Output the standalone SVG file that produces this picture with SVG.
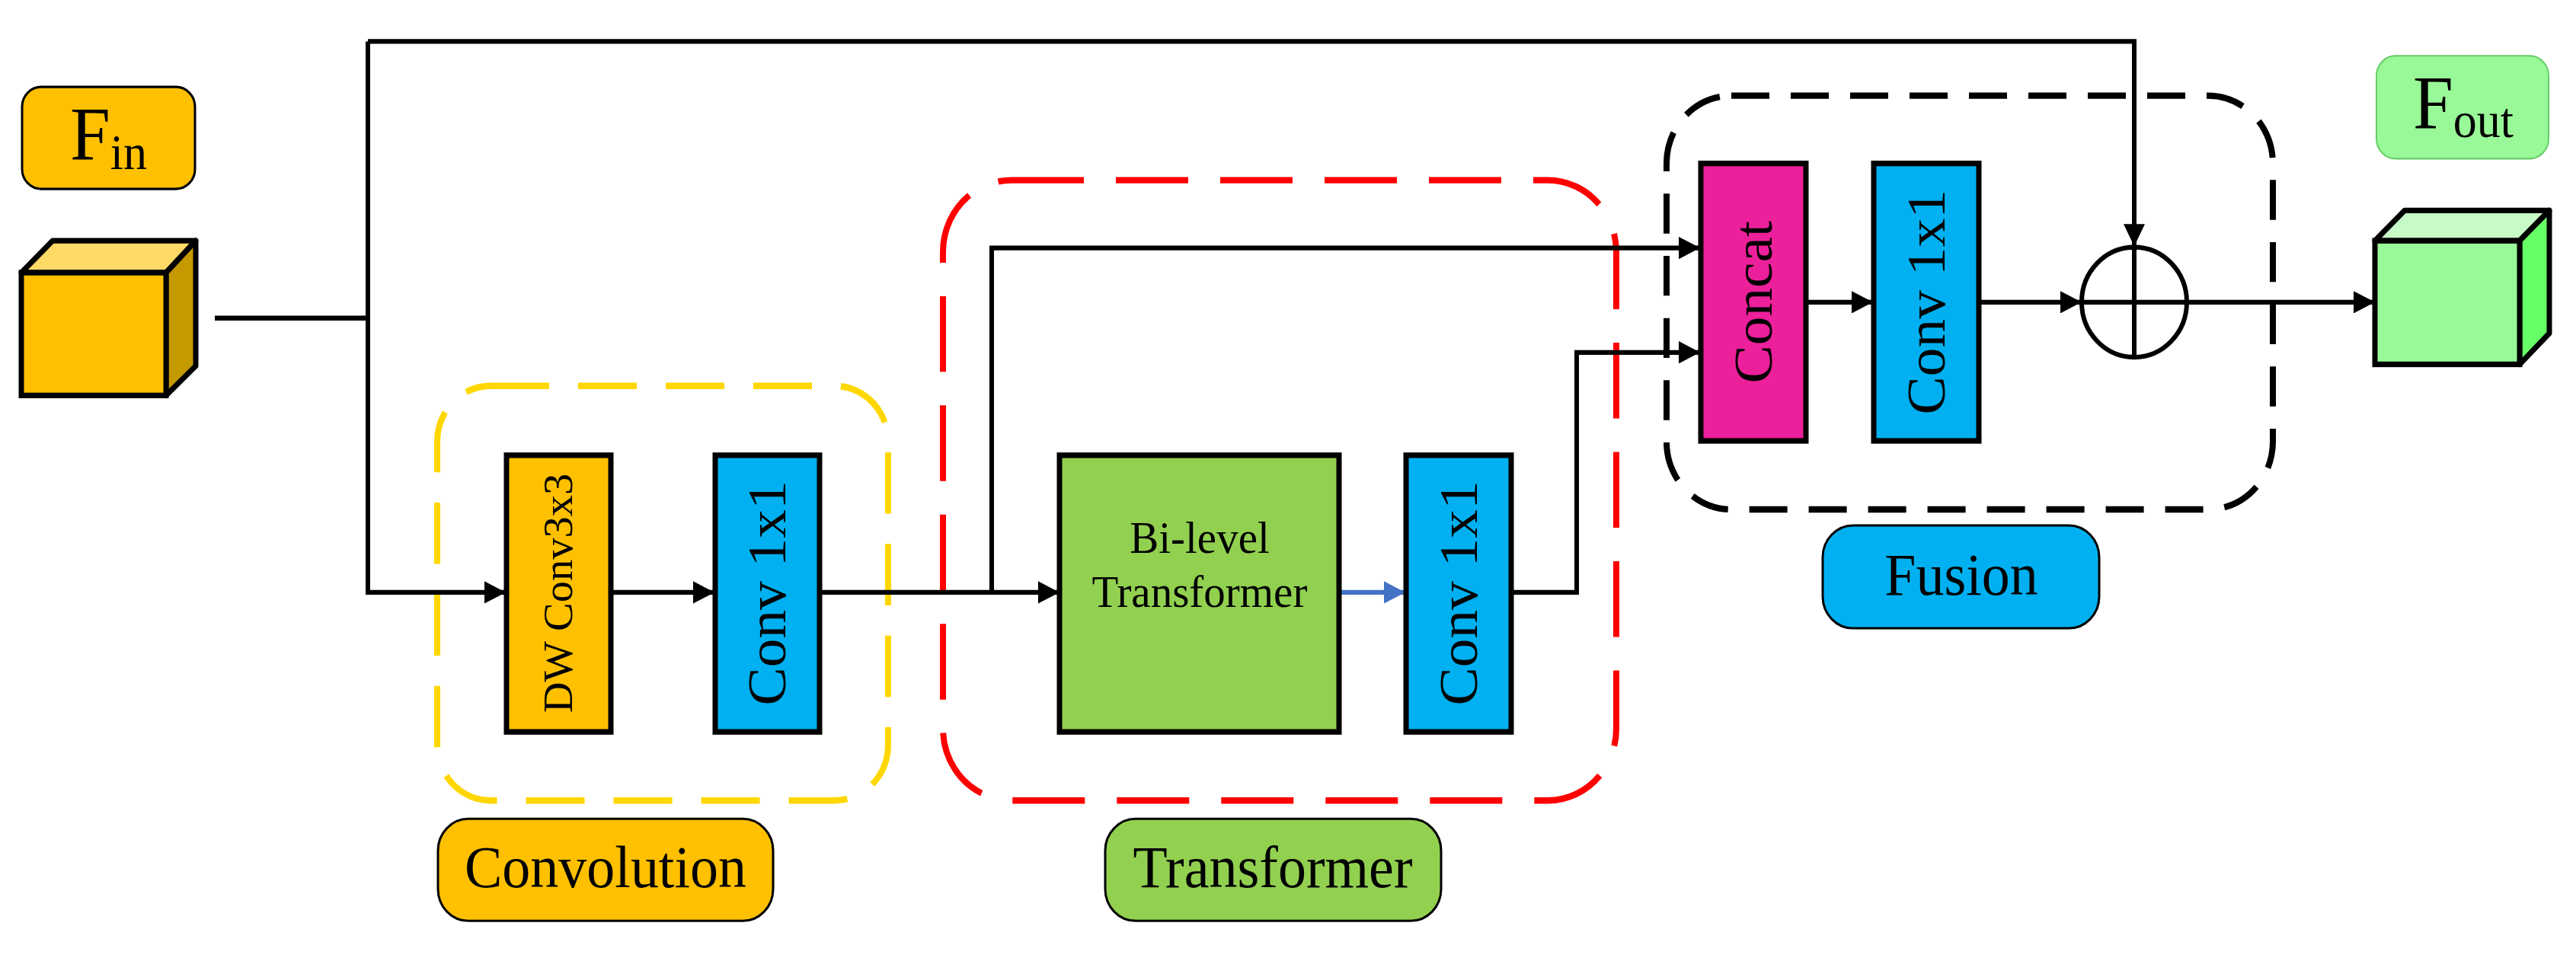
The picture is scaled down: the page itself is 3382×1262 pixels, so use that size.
<svg xmlns="http://www.w3.org/2000/svg" width="3382" height="1262" viewBox="0 0 3382 1262">
<style>
text{font-family:"Liberation Serif","Times New Roman",serif;fill:#000}
.blk{stroke:#000;stroke-width:7}
.ln{fill:none;stroke:#000;stroke-width:6}
.lbl{stroke:#000;stroke-width:3}
.grp{fill:none;stroke-width:8}
</style>
<defs>
<marker id="ah" viewBox="0 0 10 10" refX="10" refY="5" markerUnits="userSpaceOnUse" markerWidth="34" markerHeight="28" orient="auto"><path d="M0,0 L10,5 L0,10 z" fill="#000"/></marker>
<marker id="ahb" viewBox="0 0 10 10" refX="10" refY="5" markerUnits="userSpaceOnUse" markerWidth="34" markerHeight="28" orient="auto"><path d="M0,0 L10,5 L0,10 z" fill="#4472C4"/></marker>
</defs>
<rect width="3382" height="1262" fill="#fff"/>
<g transform="scale(1 1.047)">
<g id="groups">
<rect x="574" y="484" width="592" height="520" rx="70" class="grp" stroke="#FFD700" stroke-dasharray="77 38"/>
<rect x="1238" y="226" width="884" height="778" rx="90" class="grp" stroke="#FF0000" stroke-dasharray="95 42"/>
<rect x="2188" y="120" width="796" height="519" rx="85" class="grp" stroke="#000" stroke-dasharray="50 28"/>
</g>

<g id="connectors">
<path class="ln" d="M282 399 H483"/>
<path class="ln" d="M483 52 V743 H664" marker-end="url(#ah)"/>
<path class="ln" d="M483 52 H2802 V309" marker-end="url(#ah)"/>
<path class="ln" d="M802 743 H938" marker-end="url(#ah)"/>
<path class="ln" d="M1076 743 H1391" marker-end="url(#ah)"/>
<path class="ln" d="M1302 743 V311 H2232" marker-end="url(#ah)"/>
<path fill="none" stroke="#4472C4" stroke-width="6" d="M1758 743 H1845" marker-end="url(#ahb)"/>
<path class="ln" d="M1984 743 H2070 V442 H2232" marker-end="url(#ah)"/>
<path class="ln" d="M2371 379 H2459" marker-end="url(#ah)"/>
<path class="ln" d="M2598 379 H2733" marker-end="url(#ah)"/>
<path class="ln" d="M2871 379 H3118" marker-end="url(#ah)"/>
</g>

<g id="fin-label"><rect x="29" y="109" width="227" height="128" rx="25" fill="#FFC000" class="lbl"/>
<text x="92" y="200" font-size="95">F<tspan font-size="62" dy="12">in</tspan></text></g>
<g id="fin-cube">
<polygon points="28,342 69,302 257,302 218,342" fill="#FFD966" class="blk" stroke-linejoin="round"/>
<polygon points="218,342 257,302 257,459 218,496" fill="#C49A00" class="blk" stroke-linejoin="round"/>
<rect x="28" y="342" width="190" height="154" fill="#FFC000" class="blk"/>
</g>

<g id="dwconv"><rect x="665" y="571" width="137" height="347" fill="#FFC000" class="blk"/>
<text transform="translate(733 744) rotate(-90)" text-anchor="middle" dominant-baseline="central" font-size="54">DW Conv3x3</text></g>
<g id="conv1"><rect x="939" y="571" width="137" height="347" fill="#00B0F0" class="blk"/>
<text transform="translate(1007 744) rotate(-90)" text-anchor="middle" dominant-baseline="central" font-size="72">Conv 1x1</text></g>
<g id="conv-label"><rect x="575" y="1027" width="440" height="128" rx="40" fill="#FFC000" class="lbl"/>
<text x="795" y="1113" text-anchor="middle" font-size="74">Convolution</text></g>

<g id="bilevel"><rect x="1391" y="571" width="367" height="347" fill="#92D050" class="blk"/>
<text x="1575" y="693" text-anchor="middle" font-size="57">Bi-level</text>
<text x="1575" y="761" text-anchor="middle" font-size="57">Transformer</text></g>
<g id="conv2"><rect x="1846" y="571" width="138" height="347" fill="#00B0F0" class="blk"/>
<text transform="translate(1915 744) rotate(-90)" text-anchor="middle" dominant-baseline="central" font-size="72">Conv 1x1</text></g>
<g id="trans-label"><rect x="1451" y="1027" width="441" height="128" rx="40" fill="#92D050" class="lbl"/>
<text x="1671" y="1113" text-anchor="middle" font-size="74">Transformer</text></g>

<g id="concat"><rect x="2233" y="205" width="138" height="348" fill="#EC209A" class="blk"/>
<text transform="translate(2302 379) rotate(-90)" text-anchor="middle" dominant-baseline="central" font-size="72">Concat</text></g>
<g id="conv3"><rect x="2460" y="205" width="138" height="348" fill="#00B0F0" class="blk"/>
<text transform="translate(2529 379) rotate(-90)" text-anchor="middle" dominant-baseline="central" font-size="72">Conv 1x1</text></g>
<g id="add"><circle cx="2802" cy="379" r="69" fill="none" stroke="#000" stroke-width="6"/>
<path d="M2733 379 H2871 M2802 310 V448" stroke="#000" stroke-width="6"/></g>
<g id="fusion-label"><rect x="2393" y="659" width="363" height="129" rx="40" fill="#00B0F0" class="lbl"/>
<text x="2575" y="746" text-anchor="middle" font-size="74">Fusion</text></g>

<g id="fout-label"><rect x="3120" y="70" width="226" height="129" rx="25" fill="#99F898" stroke="#66CC66" stroke-width="2"/>
<text x="3168" y="160" font-size="95">F<tspan font-size="62" dy="12">out</tspan></text></g>
<g id="fout-cube">
<polygon points="3118,302 3157,264 3347,264 3308,302" fill="#C6FAC6" class="blk" stroke-linejoin="round"/>
<polygon points="3308,302 3347,264 3347,418 3308,457" fill="#66FF66" class="blk" stroke-linejoin="round"/>
<rect x="3118" y="302" width="190" height="155" fill="#99F898" class="blk"/>
</g>
</g>
</svg>
